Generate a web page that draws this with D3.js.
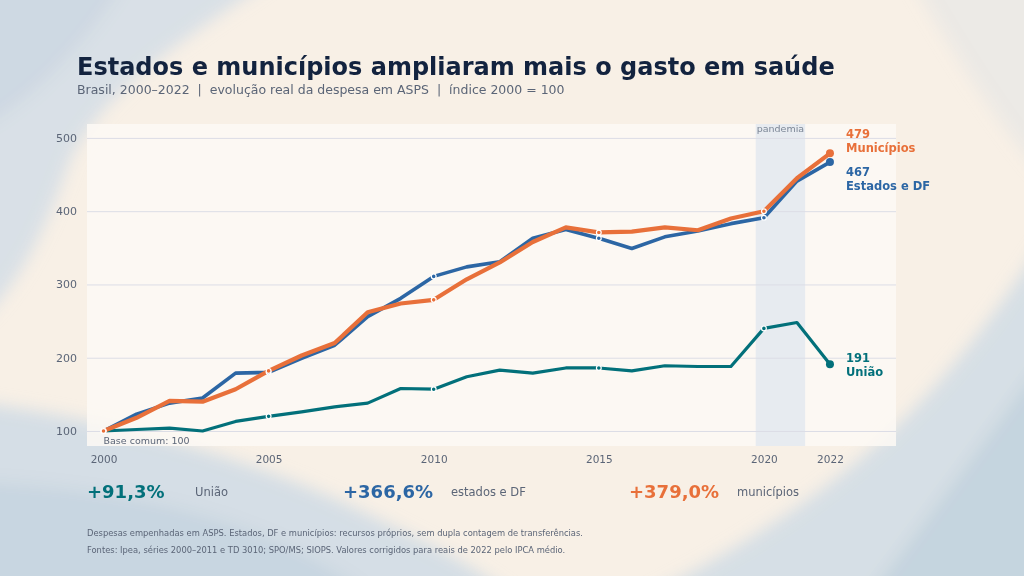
<!DOCTYPE html>
<html>
<head>
<meta charset="utf-8">
<script src="https://cdn.jsdelivr.net/npm/d3@7"></script>
<style>
  html, body { margin: 0; padding: 0; }
  body { width: 1024px; height: 576px; overflow: hidden; font-family: "DejaVu Sans", sans-serif; }
  text { white-space: pre; }
</style>
</head>
<body>
<svg id="chart" width="1024" height="576"></svg>
<script>
// data: índice 2000 = 100
const years = d3.range(2000, 2023);
const uniao   = [100, 102, 104, 100, 113, 120, 126, 133, 138, 158, 157, 174, 183, 179, 186, 186, 182, 189, 188, 188, 240, 248, 191];
const estados = [100, 123, 138, 145, 179, 180, 199, 217, 256, 281, 311, 324, 331, 363, 375, 363, 349, 365, 373, 383, 391, 441, 467];
const municipios = [100, 118, 141, 140, 157, 182, 203, 220, 262, 274, 279, 307, 330, 358, 378, 371, 372, 378, 374, 390, 400, 445, 479];
const yTicks = [100, 200, 300, 400, 500];
const xTicks = [2000, 2005, 2010, 2015, 2020, 2022];
const markerYears = [2000, 2005, 2010, 2015, 2020];
const pandemia = [2019.75, 2021.25];

const series = [
  { key: 'uniao', name: 'União', values: uniao, color: '#02707a', width: 3.2, stat: '+91,3%', statLabel: 'União' },
  { key: 'estados', name: 'Estados e DF', values: estados, color: '#2c66a4', width: 3.6, stat: '+366,6%', statLabel: 'estados e DF' },
  { key: 'municipios', name: 'Municípios', values: municipios, color: '#e8703a', width: 4.2, stat: '+379,0%', statLabel: 'municípios' }
];

const svg = d3.select('#chart');
const W = 1024, H = 576;

// background
const defs = svg.append('defs');
defs.append('filter').attr('id', 'blur')
  .attr('x', '-20%').attr('y', '-20%').attr('width', '140%').attr('height', '140%')
  .append('feGaussianBlur').attr('stdDeviation', 8);

svg.append('rect').attr('width', W).attr('height', H).attr('fill', '#f8f0e6');

const waves = svg.append('g').attr('filter', 'url(#blur)');
waves.append('path')
  .attr('d', 'M-40,-40 L300,-40 C200,30 110,80 70,160 C45,230 20,290 -40,340 Z')
  .attr('fill', '#d3dde6').attr('opacity', 0.85);
waves.append('path')
  .attr('d', 'M-40,-40 L140,-40 C90,40 40,100 -40,140 Z')
  .attr('fill', '#c6d4e1').attr('opacity', 0.6);
waves.append('path')
  .attr('d', 'M-40,400 C120,420 260,460 380,520 C430,545 480,565 540,620 L-40,620 Z')
  .attr('fill', '#cfdbe5').attr('opacity', 0.85);
waves.append('path')
  .attr('d', 'M-40,480 C150,490 290,520 400,620 L-40,620 Z')
  .attr('fill', '#bfd0de').attr('opacity', 0.6);
waves.append('path')
  .attr('d', 'M1064,210 C1000,310 940,390 870,450 C790,520 700,570 600,620 L1064,620 Z')
  .attr('fill', '#d0dce5').attr('opacity', 0.85);
waves.append('path')
  .attr('d', 'M1064,330 C1000,420 940,500 850,620 L1064,620 Z')
  .attr('fill', '#b9cddb').attr('opacity', 0.6);
waves.append('path')
  .attr('d', 'M1064,-40 L1064,200 C1020,150 980,100 900,-40 Z')
  .attr('fill', '#dfe4e6').attr('opacity', 0.5);

// scales
const x = d3.scaleLinear().domain([1999.5, 2024]).range([87, 896]);
const y = d3.scaleLinear().domain([79.5, 519]).range([446, 124]);

// title
svg.append('text').attr('x', 77).attr('y', 75)
  .attr('font-size', 24).attr('font-weight', 'bold').attr('fill', '#13233f')
  .text('Estados e municípios ampliaram mais o gasto em saúde');
svg.append('text').attr('x', 77).attr('y', 94)
  .attr('font-size', 12.5).attr('fill', '#5b6577')
  .text('Brasil, 2000–2022  |  evolução real da despesa em ASPS  |  índice 2000 = 100');

// plot panel
svg.append('rect')
  .attr('x', x.range()[0]).attr('y', y.range()[1])
  .attr('width', x.range()[1] - x.range()[0]).attr('height', y.range()[0] - y.range()[1])
  .attr('fill', '#fdf9f5').attr('opacity', 0.85);

// pandemia band
svg.append('rect')
  .attr('x', x(pandemia[0])).attr('y', y.range()[1])
  .attr('width', x(pandemia[1]) - x(pandemia[0])).attr('height', y.range()[0] - y.range()[1])
  .attr('fill', '#e6eaf0').attr('opacity', 0.9);
svg.append('text')
  .attr('x', (x(pandemia[0]) + x(pandemia[1])) / 2).attr('y', 132)
  .attr('text-anchor', 'middle').attr('font-size', 9.5).attr('fill', '#7b8696')
  .text('pandemia');

// grid + y axis
const yAxis = svg.append('g')
  .attr('transform', `translate(${x.range()[0]},0)`)
  .call(d3.axisLeft(y).tickValues(yTicks).tickSize(-(x.range()[1] - x.range()[0])).tickPadding(10));
yAxis.select('.domain').remove();
yAxis.selectAll('.tick line').attr('stroke', '#dcdde6').attr('stroke-width', 1);
yAxis.selectAll('.tick text').attr('fill', '#5b6577').attr('font-size', 11)
  .attr('font-family', '"DejaVu Sans", sans-serif');

// x axis
const xAxis = svg.append('g')
  .attr('transform', `translate(0,${y.range()[0]})`)
  .call(d3.axisBottom(x).tickValues(xTicks).tickFormat(d3.format('d')).tickSize(0).tickPadding(10));
xAxis.select('.domain').remove();
xAxis.selectAll('.tick text').attr('fill', '#5b6577').attr('font-size', 10.5)
  .attr('font-family', '"DejaVu Sans", sans-serif');

svg.append('text').attr('x', x(2000)).attr('y', 444)
  .attr('font-size', 9.5).attr('fill', '#5b6577')
  .text('Base comum: 100');

// lines
const line = d3.line()
  .x((d, i) => x(years[i]))
  .y(d => y(d));

const lines = svg.append('g');
series.forEach(s => {
  lines.append('path')
    .datum(s.values)
    .attr('fill', 'none')
    .attr('stroke', s.color)
    .attr('stroke-width', s.width)
    .attr('stroke-linejoin', 'round')
    .attr('d', line);
});

series.forEach(s => {
  lines.selectAll(null)
    .data(markerYears)
    .enter()
    .append('circle')
    .attr('cx', d => x(d))
    .attr('cy', d => y(s.values[years.indexOf(d)]))
    .attr('r', 2.4)
    .attr('fill', s.color)
    .attr('stroke', '#fff')
    .attr('stroke-width', 1.2);

  const last = s.values[s.values.length - 1];
  lines.append('circle')
    .attr('cx', x(2022)).attr('cy', y(last))
    .attr('r', 4).attr('fill', s.color);
});

// end labels
const labelPos = { municipios: 138, estados: 176, uniao: 362 };
series.forEach(s => {
  const last = s.values[s.values.length - 1];
  const t = svg.append('text')
    .attr('x', 846).attr('y', labelPos[s.key])
    .attr('font-size', 11.5).attr('font-weight', 'bold').attr('fill', s.color);
  t.append('tspan').attr('x', 846).text(last);
  t.append('tspan').attr('x', 846).attr('dy', 13.5).text(s.name);
});

// stats row
const statX = [87, 343, 629];
series.forEach((s, i) => {
  svg.append('text').attr('x', statX[i]).attr('y', 498)
    .attr('font-size', 18).attr('font-weight', 'bold').attr('fill', s.color)
    .text(s.stat);
  svg.append('text').attr('x', statX[i] + 108).attr('y', 496)
    .attr('font-size', 11.5).attr('fill', '#5b6577')
    .text(s.statLabel);
});

// footnotes
svg.append('text').attr('x', 87).attr('y', 536)
  .attr('font-size', 8.35).attr('fill', '#5b6577')
  .text('Despesas empenhadas em ASPS. Estados, DF e municípios: recursos próprios, sem dupla contagem de transferências.');
svg.append('text').attr('x', 87).attr('y', 553)
  .attr('font-size', 8.35).attr('fill', '#5b6577')
  .text('Fontes: Ipea, séries 2000–2011 e TD 3010; SPO/MS; SIOPS. Valores corrigidos para reais de 2022 pelo IPCA médio.');
</script>
</body>
</html>
